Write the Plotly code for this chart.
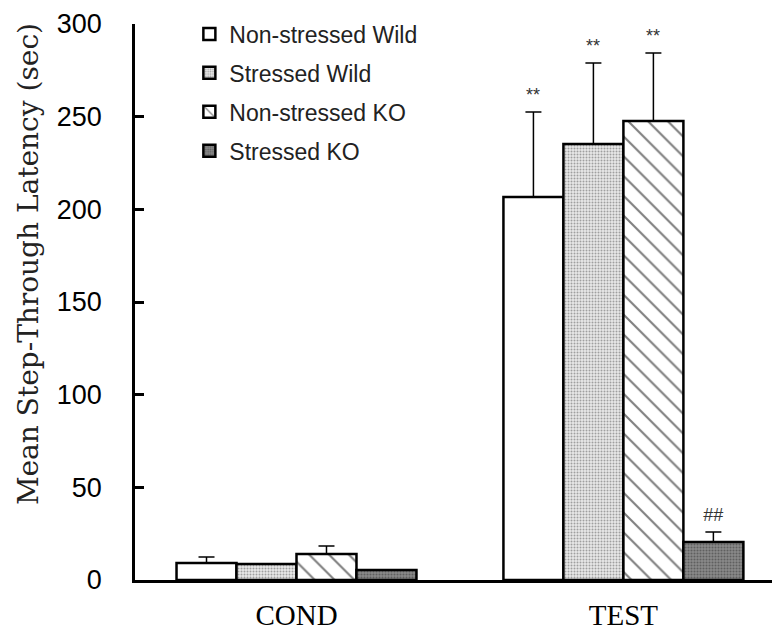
import plotly.graph_objects as go

categories = ["COND", "TEST"]
series_names = ["Non-stressed Wild", "Stressed Wild", "Non-stressed KO", "Stressed KO"]
means = {
    "Non-stressed Wild": [9.2, 206.7],
    "Stressed Wild": [8.6, 235.3],
    "Non-stressed KO": [14.0, 247.7],
    "Stressed KO": [5.4, 20.5],
}
errors = {
    "Non-stressed Wild": [3.2, 45.8],
    "Stressed Wild": [0.0, 43.7],
    "Non-stressed KO": [4.3, 36.7],
    "Stressed KO": [0.0, 5.4],
}
sig_labels = {
    "Non-stressed Wild": ["", "**"],
    "Stressed Wild": ["", "**"],
    "Non-stressed KO": ["", "**"],
    "Stressed KO": ["", "<i>##</i>"],
}
y_ticks = [0, 50, 100, 150, 200, 250, 300]
y_title = "Mean Step-Through Latency (sec)"

styles = {
    "Non-stressed Wild": dict(color="white", pattern=dict(shape="")),
    "Stressed Wild": dict(color="#d9d9d9", pattern=dict(shape=".", size=3, solidity=0.35, fgcolor="#555", bgcolor="#e8e8e8")),
    "Non-stressed KO": dict(color="white", pattern=dict(shape="\\", size=14, solidity=0.15, fgcolor="black", bgcolor="white")),
    "Stressed KO": dict(color="#6a6a6a", pattern=dict(shape=".", size=3, solidity=0.4, fgcolor="#333", bgcolor="#8a8a8a")),
}

fig = go.Figure()
bargap = 0.266
for i, name in enumerate(series_names):
    st = styles[name]
    fig.add_trace(go.Bar(
        name=name, x=[0, 1], y=means[name],
        legendgroup=name,
        marker=dict(color=st["color"], pattern=st["pattern"], line=dict(color="black", width=2.5)),
        error_y=dict(type="data", symmetric=False, array=errors[name],
                     arrayminus=[0, 0], color="black", thickness=1.5, width=8),
    ))

# significance annotations
nser = len(series_names)
bw = (1 - bargap) / nser
for i, name in enumerate(series_names):
    off = (i - (nser - 1) / 2) * bw
    for j, lab in enumerate(sig_labels[name]):
        if lab:
            fig.add_annotation(x=j + off, y=means[name][j] + errors[name][j],
                               text=lab, showarrow=False, yshift=17,
                               font=dict(family="Liberation Sans", size=18, color="#333"))

# y axis title as annotation (positioned like the original)
fig.add_annotation(xref="paper", yref="paper", x=-0.166, y=0.568,
                   text=y_title, textangle=-90, showarrow=False,
                   xanchor="center", yanchor="middle",
                   font=dict(family="DejaVu Serif", size=28, color="#222"))

fig.update_layout(
    width=772, height=622,
    paper_bgcolor="white", plot_bgcolor="white",
    margin=dict(l=127, r=0, t=16, b=50, autoexpand=False),
    barmode="group", bargap=bargap, bargroupgap=0,
    showlegend=True,
    legend=dict(x=0.0843, y=1.0207, xanchor="left", yanchor="top",
                font=dict(family="Liberation Sans", size=23, color="#222"),
                traceorder="grouped", tracegroupgap=6, bgcolor="rgba(0,0,0,0)"),
    xaxis=dict(tickmode="array", tickvals=[0, 1], ticktext=categories,
               range=[-0.494, 1.479], showline=True, linecolor="black", linewidth=2.5,
               ticks="", showgrid=False, zeroline=False, ticklabelstandoff=7,
               tickfont=dict(family="Liberation Serif", size=29, color="black")),
    yaxis=dict(range=[0, 300], tickvals=y_ticks, showline=True, linecolor="black", linewidth=2.5,
               ticks="inside", ticklen=9, tickwidth=2.5, tickcolor="black",
               showgrid=False, zeroline=False, ticklabelstandoff=25,
               tickfont=dict(family="Liberation Sans", size=27, color="black")),
)

fig.write_html("out.html")
